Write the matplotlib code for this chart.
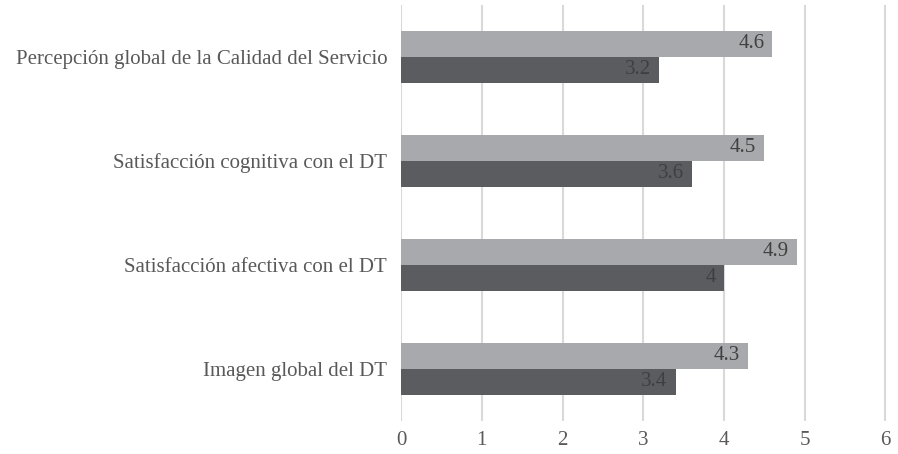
import matplotlib
matplotlib.use("Agg")
import matplotlib.pyplot as plt
import numpy as np

categories = [
    "Percepción global de la Calidad del Servicio",
    "Satisfacción cognitiva con el DT",
    "Satisfacción afectiva con el DT",
    "Imagen global del DT",
]
series_light = [4.6, 4.5, 4.9, 4.3]
series_dark = [3.2, 3.6, 4.0, 3.4]
series_dark_labels = ["3.2", "3.6", "4", "3.4"]
series_light_labels = ["4.6", "4.5", "4.9", "4.3"]
x_ticks = [0, 1, 2, 3, 4, 5, 6]

plt.rcParams["font.family"] = ["Liberation Serif", "DejaVu Serif"]

fig = plt.figure(figsize=(8.98, 4.54), dpi=100)
ax = fig.add_axes([0.4466, 0.073, 0.5412, 0.916])

y = np.arange(len(categories))
h = 0.25
light_color = "#A7A9AC"
dark_color = "#5B5C60"
fs = 15

ax.barh(y - h / 2, series_light, height=h, color=light_color, zorder=3)
ax.barh(y + h / 2, series_dark, height=h, color=dark_color, zorder=3)

for yi, v, lab in zip(y, series_light, series_light_labels):
    ax.text(v - 0.1, yi - h / 2, lab, ha="right", va="center",
            fontsize=fs, color="#404040", zorder=4)
for yi, v, lab in zip(y, series_dark, series_dark_labels):
    ax.text(v - 0.1, yi + h / 2, lab, ha="right", va="center",
            fontsize=fs, color="#3E3F42", zorder=4)

ax.set_xlim(0, 6.02)
ax.set_ylim(len(categories) - 0.5, -0.5)
ax.set_xticks(x_ticks)
ax.set_xticklabels([str(t) for t in x_ticks])
ax.set_yticks(y)
ax.set_yticklabels(categories)
ax.tick_params(axis="x", length=0, labelsize=fs, labelcolor="#595959", pad=7)
ax.tick_params(axis="y", length=0, labelsize=fs, labelcolor="#595959", pad=10)

ax.grid(axis="x", color="#D9D9D9", linewidth=1.5, zorder=0)
for s in ax.spines.values():
    s.set_visible(False)

fig.savefig("out.png", dpi=100)
